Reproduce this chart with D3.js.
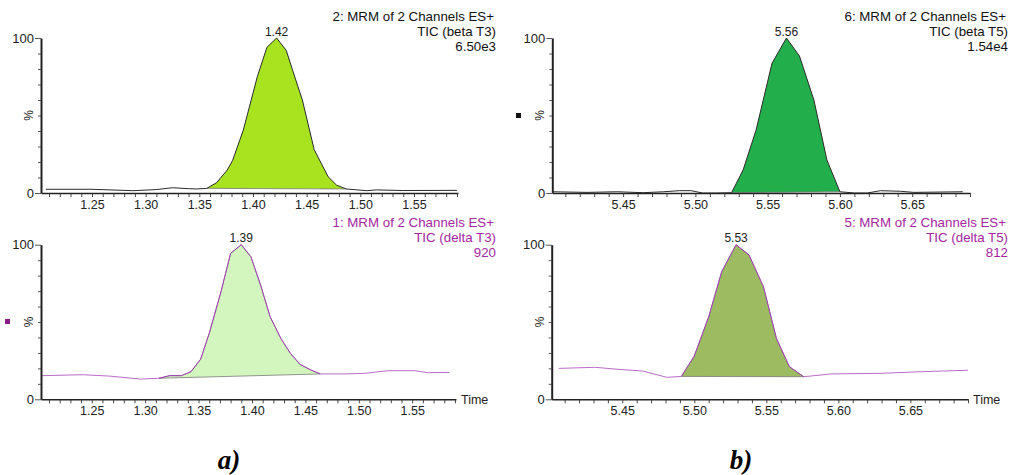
<!DOCTYPE html>
<html>
<head>
<meta charset="utf-8">
<script src="https://cdn.jsdelivr.net/npm/d3@7"></script>
<style>
  body { margin: 0; background: #fff; }
  svg text { font-family: "Liberation Sans", Arial, sans-serif; }
</style>
</head>
<body>
<svg id="chart" width="1014" height="475"></svg>
<script>
// ---- MRM chromatogram traces: retention time (min) vs. relative intensity (%) ----
const betaT3Time = [1.207, 1.250, 1.288, 1.310, 1.325, 1.340, 1.348, 1.357, 1.366, 1.376, 1.381, 1.391, 1.404, 1.413, 1.422, 1.431, 1.437, 1.446, 1.457, 1.470, 1.478, 1.487, 1.506, 1.515, 1.540, 1.590];
const betaT3Pct  = [2.4, 2.4, 1.5, 2.2, 3.4, 2.8, 2.6, 3.0, 6.6, 14.8, 21.0, 40.6, 75.0, 94.0, 100, 92.0, 79.0, 60.0, 28.0, 10.5, 5.0, 2.6, 1.5, 2.0, 1.6, 1.7];
const betaT3Window = [1.357, 1.487];

const deltaT3Time = [1.203, 1.242, 1.267, 1.295, 1.313, 1.323, 1.334, 1.343, 1.352, 1.360, 1.371, 1.380, 1.390, 1.399, 1.408, 1.417, 1.427, 1.436, 1.445, 1.455, 1.464, 1.487, 1.506, 1.527, 1.552, 1.565, 1.585];
const deltaT3Pct  = [15.3, 15.9, 15.0, 13.1, 13.6, 15.3, 15.3, 17.9, 26.0, 42.7, 69.6, 94.4, 100, 92.2, 74.0, 53.4, 39.4, 29.7, 22.6, 19.0, 16.4, 16.4, 16.8, 18.5, 18.5, 17.2, 17.4];
const deltaT3Window = [1.313, 1.464];

const betaT5Time = [5.401, 5.425, 5.446, 5.464, 5.478, 5.489, 5.497, 5.505, 5.515, 5.525, 5.533, 5.542, 5.553, 5.563, 5.572, 5.582, 5.591, 5.600, 5.610, 5.619, 5.628, 5.642, 5.651, 5.685];
const betaT5Pct  = [0.8, 0.4, 0.8, 0.2, 0.8, 1.5, 1.5, 0.0, 0.0, 0.2, 14.8, 40.6, 83.7, 100, 88.4, 60.0, 21.3, 0.8, 0.0, 0.0, 1.5, 1.1, 0.4, 0.8];
const betaT5Window = [5.525, 5.600];

const deltaT5Time = [5.406, 5.431, 5.447, 5.464, 5.481, 5.491, 5.500, 5.510, 5.519, 5.529, 5.538, 5.548, 5.557, 5.566, 5.576, 5.595, 5.630, 5.653, 5.690];
const deltaT5Pct  = [20.0, 20.7, 19.4, 18.3, 14.2, 14.8, 28.0, 53.4, 82.5, 100, 93.3, 72.8, 39.4, 21.1, 14.6, 16.4, 16.8, 17.7, 18.8];
const deltaT5Window = [5.491, 5.576];

// ---- axis ranges and tick labels ----
const timeRangeA = [1.2025, 1.591];
const timeRangeB = [5.401, 5.690];
const timeTicksA = ["1.25", "1.30", "1.35", "1.40", "1.45", "1.50", "1.55"];
const timeTicksB = ["5.45", "5.50", "5.55", "5.60", "5.65"];
const pctTicks = [0, 100];

// ---- trace headers ----
const betaT3Header  = ["2: MRM of 2 Channels ES+", "TIC (beta T3)", "6.50e3"];
const deltaT3Header = ["1: MRM of 2 Channels ES+", "TIC (delta T3)", "920"];
const betaT5Header  = ["6: MRM of 2 Channels ES+", "TIC (beta T5)", "1.54e4"];
const deltaT5Header = ["5: MRM of 2 Channels ES+", "TIC (delta T5)", "812"];

const panelLabels = ["a)", "b)"];

// ---- layout ----
const PURPLE_TEXT = "#a3279e";
const panels = [
  { time: betaT3Time, pct: betaT3Pct, win: betaT3Window, header: betaT3Header, domain: timeRangeA, ticks: timeTicksA,
    left: 41, right: 458, top: 38, bottom: 193, headRight: 496,
    fill: "#a7e31f", line: "#2b2b2b", headColor: "#111", timeLabel: false, marker: null },
  { time: deltaT3Time, pct: deltaT3Pct, win: deltaT3Window, header: deltaT3Header, domain: timeRangeA, ticks: timeTicksA,
    left: 41, right: 456, top: 244.7, bottom: 399.3, headRight: 496,
    fill: "#d3f6be", line: "#bb6cc8", headColor: PURPLE_TEXT, timeLabel: true, marker: { x: 5, y: 319, c: "#8a1a8a" } },
  { time: betaT5Time, pct: betaT5Pct, win: betaT5Window, header: betaT5Header, domain: timeRangeB, ticks: timeTicksB,
    left: 552.3, right: 970, top: 38, bottom: 193, headRight: 1008,
    fill: "#22ae4b", line: "#2b2b2b", headColor: "#111", timeLabel: false, marker: { x: 516, y: 113, c: "#111" } },
  { time: deltaT5Time, pct: deltaT5Pct, win: deltaT5Window, header: deltaT5Header, domain: timeRangeB, ticks: timeTicksB,
    left: 551.7, right: 968, top: 244.7, bottom: 399.3, headRight: 1008,
    fill: "#9dbb60", line: "#bb6cc8", headColor: PURPLE_TEXT, timeLabel: true, marker: null }
];

const svg = d3.select("#chart");

panels.forEach(p => {
  const g = svg.append("g");
  const x = d3.scaleLinear().domain(p.domain).range([p.left, p.right]);
  const y = d3.scaleLinear().domain([0, 100]).range([p.bottom, p.top]);
  const pts = p.time.map((t, i) => ({ t, v: p.pct[i] }));

  // integrated peak area between the trace and a straight baseline
  const i0 = p.time.indexOf(p.win[0]);
  const i1 = p.time.indexOf(p.win[1]);
  const b0 = p.pct[i0], b1 = p.pct[i1];
  const base = t => b0 + (b1 - b0) * (t - p.win[0]) / (p.win[1] - p.win[0]);
  const peakPts = pts.slice(i0, i1 + 1);
  g.append("path")
    .datum(peakPts)
    .attr("fill", p.fill)
    .attr("d", d3.area().x(d => x(d.t)).y0(d => y(base(d.t))).y1(d => y(d.v)));
  g.append("line")
    .attr("x1", x(p.win[0])).attr("y1", y(b0))
    .attr("x2", x(p.win[1])).attr("y2", y(b1))
    .attr("stroke", "#7a7a7a").attr("stroke-width", 0.8);

  // trace
  g.append("path")
    .datum(pts)
    .attr("fill", "none")
    .attr("stroke", p.line)
    .attr("stroke-width", 1)
    .attr("d", d3.line().x(d => x(d.t)).y(d => y(d.v)));
  if (p.line !== "#2b2b2b") {
    g.append("path")
      .datum(peakPts)
      .attr("fill", "none")
      .attr("stroke", "#8e3aa0")
      .attr("stroke-width", 0.8)
      .attr("d", d3.line().x(d => x(d.t)).y(d => y(d.v)));
  }

  // x axis: minor ticks each 0.01 min, labels each 0.05 min
  const labelled = new Set(p.ticks);
  const start = Math.ceil(p.domain[0] * 100 - 1e-6), end = Math.floor(p.domain[1] * 100 + 1e-6);
  const minor = d3.range(start, end + 1).map(k => k / 100);
  const xAxis = d3.axisBottom(x)
    .tickValues(minor)
    .tickSize(4)
    .tickSizeOuter(0)
    .tickPadding(3)
    .tickFormat(d => labelled.has(d.toFixed(2)) ? d.toFixed(2) : "");
  const gx = g.append("g").attr("transform", `translate(0,${p.bottom})`).call(xAxis);
  gx.select(".domain").attr("stroke", "#222").attr("stroke-width", 1.6);
  gx.selectAll(".tick line").attr("stroke", "#333").attr("stroke-width", 0.9);
  gx.selectAll(".tick text").attr("fill", "#222").style("font-size", "12.5px")
    .style("font-family", '"Liberation Sans", Arial, sans-serif');

  // y axis: 0 and 100 labelled, minor ticks every 10 %
  const yAxis = d3.axisLeft(y)
    .tickValues(d3.range(0, 101, 10))
    .tickSize(6)
    .tickSizeOuter(0)
    .tickPadding(1)
    .tickFormat(d => pctTicks.includes(d) ? d : "");
  const gy = g.append("g").attr("transform", `translate(${p.left},0)`).call(yAxis);
  gy.select(".domain").attr("stroke", "#222").attr("stroke-width", 2);
  gy.selectAll(".tick line")
    .attr("stroke", "#444").attr("stroke-width", 0.9)
    .attr("x2", d => pctTicks.includes(d) ? -6 : -3);
  gy.selectAll(".tick text").attr("fill", "#222").style("font-size", "13px")
    .style("font-family", '"Liberation Sans", Arial, sans-serif');

  g.append("text")
    .attr("transform", `translate(${p.left - 8},${(p.top + p.bottom) / 2}) rotate(-90)`)
    .attr("text-anchor", "middle")
    .attr("fill", "#222")
    .style("font-size", "12px")
    .text("%");

  // apex label
  const apex = pts.reduce((a, b) => (b.v > a.v ? b : a));
  g.append("text")
    .attr("x", x(apex.t))
    .attr("y", y(apex.v) - 2.5)
    .attr("text-anchor", "middle")
    .attr("fill", "#222")
    .style("font-size", "12px")
    .text(d3.format(".2f")(apex.t));

  // header
  p.header.forEach((s, i) => {
    g.append("text")
      .attr("x", p.headRight - (i === 0 ? 2 : 0))
      .attr("y", p.top - 17.5 + i * 15)
      .attr("text-anchor", "end")
      .attr("fill", p.headColor)
      .style("font-size", "13.3px")
      .text(s);
  });

  if (p.timeLabel) {
    g.append("text")
      .attr("x", p.right + 5)
      .attr("y", p.bottom + 1)
      .attr("dominant-baseline", "middle")
      .attr("fill", "#222")
      .style("font-size", "12.5px")
      .text("Time");
  }

  if (p.marker) {
    g.append("rect")
      .attr("x", p.marker.x).attr("y", p.marker.y)
      .attr("width", 5).attr("height", 5)
      .attr("fill", p.marker.c);
  }
});

// panel captions
const captionX = [229, 741];
panelLabels.forEach((s, i) => {
  svg.append("text")
    .attr("x", captionX[i])
    .attr("y", 469)
    .attr("text-anchor", "middle")
    .attr("fill", "#000")
    .style("font-family", '"Liberation Serif", "Times New Roman", serif')
    .style("font-weight", "bold")
    .style("font-style", "italic")
    .style("font-size", "27px")
    .text(s);
});
</script>
</body>
</html>
